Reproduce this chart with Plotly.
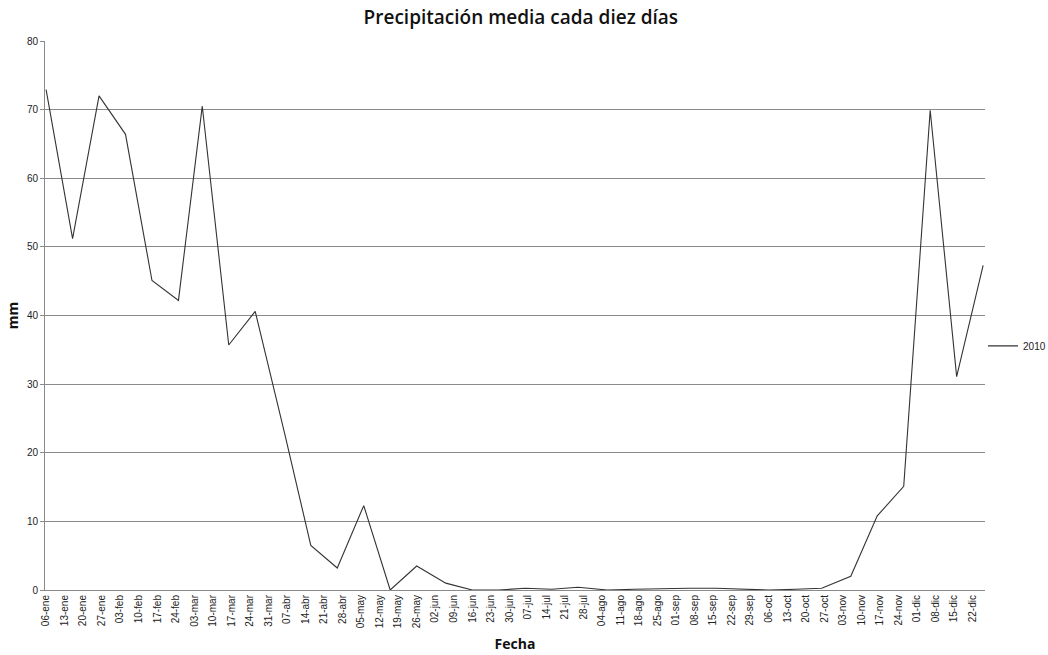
import pandas as pd
import plotly.graph_objects as go

# Ten-day observation dates (6th, 16th and 26th of each month, 2010)
fechas = [
    "2010-01-06", "2010-01-16", "2010-01-26",
    "2010-02-05", "2010-02-15", "2010-02-25",
    "2010-03-06", "2010-03-16", "2010-03-26",
    "2010-04-06", "2010-04-16", "2010-04-26",
    "2010-05-06", "2010-05-16", "2010-05-26",
    "2010-06-06", "2010-06-16", "2010-06-26",
    "2010-07-06", "2010-07-16", "2010-07-26",
    "2010-08-06", "2010-08-16", "2010-08-26",
    "2010-09-06", "2010-09-16", "2010-09-26",
    "2010-10-06", "2010-10-16", "2010-10-26",
    "2010-11-06", "2010-11-16", "2010-11-26",
    "2010-12-06", "2010-12-16", "2010-12-26",
]

# Mean precipitation per ten-day period (mm), 2010
precip_2010 = [
    72.9, 51.2, 72.0,
    66.4, 45.1, 42.2,
    70.5, 35.7, 40.6,
    23.0, 6.5, 3.2,
    12.3, 0.0, 3.5,
    1.0, 0.0, 0.0,
    0.25, 0.1, 0.4,
    0.0, 0.1, 0.2,
    0.25, 0.25, 0.15,
    0.0, 0.1, 0.25,
    2.0, 10.8, 15.1,
    69.9, 31.1, 47.3,
]

# Weekly axis labels
etiquetas_x = [
    "06-ene", "13-ene", "20-ene", "27-ene", "03-feb", "10-feb", "17-feb",
    "24-feb", "03-mar", "10-mar", "17-mar", "24-mar", "31-mar", "07-abr",
    "14-abr", "21-abr", "28-abr", "05-may", "12-may", "19-may", "26-may",
    "02-jun", "09-jun", "16-jun", "23-jun", "30-jun", "07-jul", "14-jul",
    "21-jul", "28-jul", "04-ago", "11-ago", "18-ago", "25-ago", "01-sep",
    "08-sep", "15-sep", "22-sep", "29-sep", "06-oct", "13-oct", "20-oct",
    "27-oct", "03-nov", "10-nov", "17-nov", "24-nov", "01-dic", "08-dic",
    "15-dic", "22-dic",
]
posiciones_x = pd.date_range("2010-01-06", periods=len(etiquetas_x), freq="7D")

fig = go.Figure()
fig.add_trace(go.Scatter(
    x=pd.to_datetime(fechas),
    y=precip_2010,
    mode="lines",
    name="2010",
    line=dict(color="#333333", width=1.1),
))

grid = "#8a8a8a"
fig.update_layout(
    width=1048,
    height=655,
    margin=dict(l=45, r=63, t=41, b=65, autoexpand=False),
    paper_bgcolor="white",
    plot_bgcolor="white",
    title=dict(
        text="Precipitación media cada diez días",
        font=dict(family="Open Sans", size=19, color="#111111", weight=600),
        x=0.497, xanchor="center", y=0.974, yanchor="middle",
    ),
    font=dict(family="Liberation Sans", size=10, color="#222222"),
    showlegend=True,
    legend=dict(
        xref="container", yref="container",
        x=0.938, xanchor="left", y=0.472, yanchor="middle",
        font=dict(family="Liberation Sans", size=10, color="#222222"),
        bgcolor="rgba(0,0,0,0)",
        itemwidth=30,
    ),
    xaxis=dict(
        range=["2010-01-05 14:00", "2010-12-26 17:00"],
        tickmode="array",
        tickvals=posiciones_x,
        ticktext=etiquetas_x,
        tickangle=-90,
        ticks="",
        showgrid=False,
        showline=True,
        linecolor=grid,
        linewidth=1,
        zeroline=False,
        title=dict(text="<b>Fecha</b>", font=dict(family="Open Sans", size=14, color="#111111"), standoff=11),
    ),
    yaxis=dict(
        range=[0, 80],
        dtick=10,
        showgrid=True,
        gridcolor=grid,
        gridwidth=1,
        showline=True,
        linecolor=grid,
        linewidth=1,
        ticks="outside",
        ticklen=4,
        tickcolor=grid,
        zeroline=False,
        title=dict(text="<b>mm</b>", font=dict(family="Open Sans", size=14, color="#111111"), standoff=4),
    ),
)

fig.write_html("out.html")
